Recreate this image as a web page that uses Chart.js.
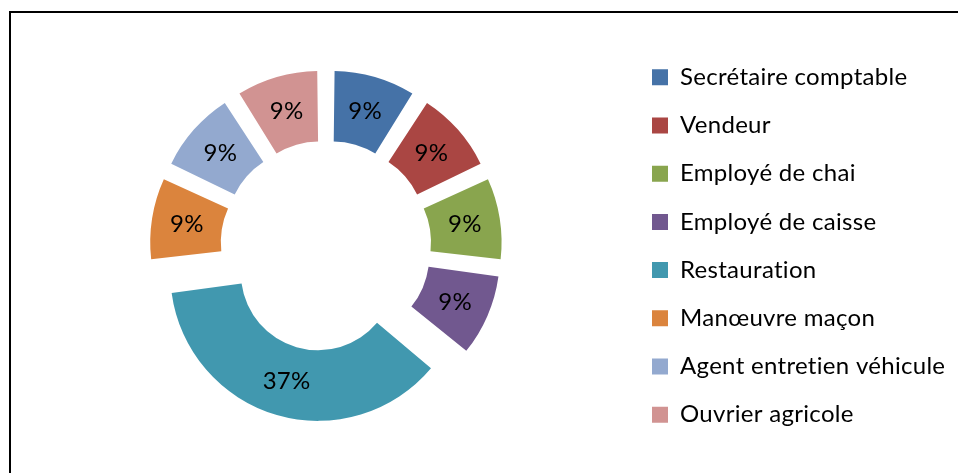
<!DOCTYPE html>
<html>
<head>
<meta charset="utf-8">
<script src="https://cdn.jsdelivr.net/npm/chart.js@4.4.1/dist/chart.umd.min.js"></script>
<style>
  html, body { margin: 0; padding: 0; background: #fff; }
  #wrap { position: relative; width: 958px; height: 473px; overflow: hidden; }
  #cadre { position: absolute; left: 9px; top: 11px; width: 990px; height: 500px; border: 2px solid #000; }
  #graph { position: absolute; left: 0; top: 0; }
</style>
</head>
<body>
<div id="wrap">
  <div id="cadre"></div>
  <canvas id="graph" width="958" height="473"></canvas>
</div>
<script>
const metiers = [
  "Secrétaire comptable",
  "Vendeur",
  "Employé de chai",
  "Employé de caisse",
  "Restauration",
  "Manœuvre maçon",
  "Agent entretien véhicule",
  "Ouvrier agricole"
];
const parts = [9, 9, 9, 9, 37, 9, 9, 9];
const couleurs = ["#4572A7", "#AA4643", "#89A54E", "#71588F", "#4198AF", "#DB843D", "#93A9CF", "#D19392"];

const POLICE = { family: "Lato, 'Liberation Sans', sans-serif", size: 24 };
const ESPACEMENT = "0.3px"; // un peu d'interlettrage, évite aussi la ligature « ti »
const ECART = 36;        // décalage de chaque part vers l'extérieur (px)
const RAYON = 140;
const BOITE = 16;
const PAS_LEGENDE = 48.2;
const X_BOITE = 652;

const total = parts.reduce((a, b) => a + b, 0);

// Chart.js déplace l'arc de offset/4 * (2 - sin(angle)) : on inverse pour obtenir ECART
function decalage(ctx) {
  const v = parts[ctx.dataIndex];
  if (v === undefined) return 0;
  const angle = 2 * Math.PI * v / total;
  return 4 * ECART / (2 - Math.sin(Math.min(Math.PI, angle)));
}

// marge droite pour caler les boîtes de la légende à X_BOITE
function margeDroite() {
  const c = document.createElement("canvas").getContext("2d");
  c.font = `${POLICE.size}px ${POLICE.family}`;
  c.letterSpacing = ESPACEMENT;
  const large = Math.max(...metiers.map((t) => c.measureText(t).width));
  return 958 - X_BOITE - 10 - (BOITE + POLICE.size / 2 + large);
}

// le contexte est réinitialisé au redimensionnement : on remet l'espacement avant mesure et dessin
const interlettrage = {
  id: "interlettrage",
  beforeLayout(chart) {
    chart.ctx.letterSpacing = ESPACEMENT;
  },
  beforeDraw(chart) {
    chart.ctx.letterSpacing = ESPACEMENT;
  }
};

const pourcentages = {
  id: "pourcentages",
  afterDatasetsDraw(chart) {
    const c = chart.ctx;
    const meta = chart.getDatasetMeta(0);
    c.save();
    c.font = `${POLICE.size}px ${POLICE.family}`;
    c.fillStyle = "#000";
    c.textAlign = "center";
    c.textBaseline = "middle";
    meta.data.forEach((arc, i) => {
      const { x, y, startAngle, endAngle, innerRadius, outerRadius } =
        arc.getProps(["x", "y", "startAngle", "endAngle", "innerRadius", "outerRadius"], true);
      const mid = (startAngle + endAngle) / 2;
      const r = (innerRadius + outerRadius) / 2 + ECART;
      c.fillText(parts[i] + "%", x + Math.cos(mid) * r, y + Math.sin(mid) * r);
    });
    c.restore();
  }
};

new Chart(document.getElementById("graph"), {
  type: "doughnut",
  data: {
    labels: metiers,
    datasets: [{
      data: parts,
      backgroundColor: couleurs,
      borderWidth: 0,
      offset: decalage
    }]
  },
  options: {
    responsive: false,
    animation: false,
    events: [],
    radius: RAYON,
    cutout: "49.6%",
    layout: { padding: { left: 24, top: 19, right: margeDroite(), bottom: 0 } },
    plugins: {
      legend: {
        position: "right",
        align: "center",
        labels: {
          boxWidth: BOITE,
          boxHeight: BOITE,
          padding: PAS_LEGENDE - POLICE.size,
          color: "#000",
          font: POLICE
        }
      },
      tooltip: { enabled: false }
    }
  },
  plugins: [interlettrage, pourcentages]
});
</script>
</body>
</html>
